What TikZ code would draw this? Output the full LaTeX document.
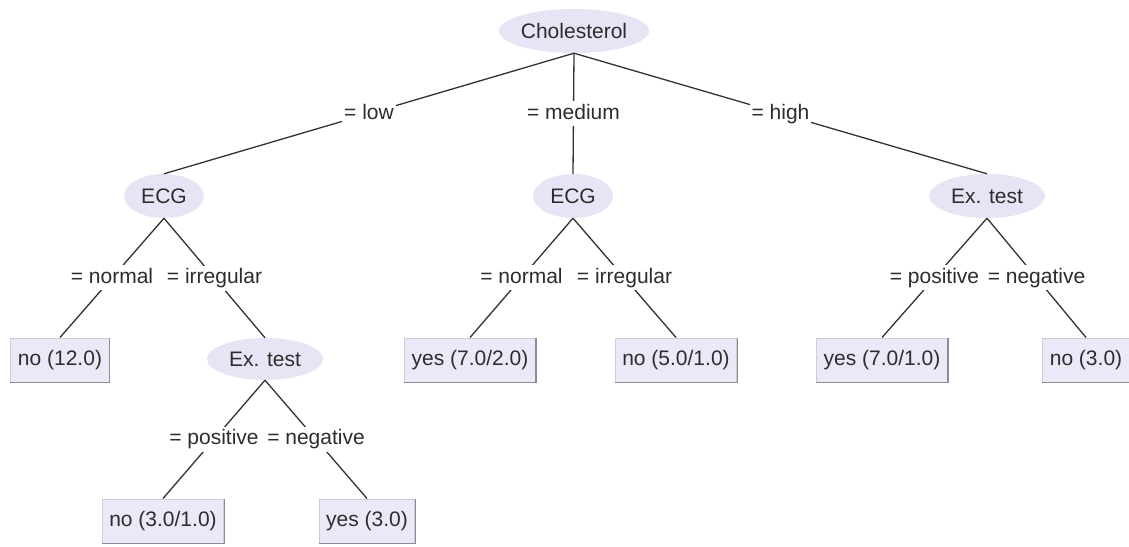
\documentclass[tikz,border=0pt]{standalone}
\usepackage{fontspec}
\setmainfont{Liberation Sans}
\usetikzlibrary{shapes.geometric}
\definecolor{nodefill}{RGB}{230,229,245}
\definecolor{leaffill}{RGB}{233,233,247}
\definecolor{leafedge}{RGB}{205,205,215}
\definecolor{leafshade}{RGB}{140,140,150}
\definecolor{txt}{RGB}{45,45,45}
\definecolor{edgecol}{RGB}{50,50,50}
\tikzset{
  every node/.style={font=\fontsize{21}{25}\selectfont, text=txt},
  attr/.style={ellipse, fill=nodefill, draw=none, inner sep=0pt},
  leaf/.style={rectangle, fill=leaffill, draw=leafedge, line width=1pt, minimum height=44pt, inner xsep=7pt, inner ysep=0pt},
  shade/.style={draw=leafshade, line width=1.4pt},
  conn/.style={draw=edgecol, line width=1.3pt},
  lbl/.style={fill=white, inner xsep=2pt, inner ysep=3pt, text height=15pt, text depth=4pt}
}
\begin{document}
\begin{tikzpicture}[x=1pt,y=-1pt]
\useasboundingbox[fill=white] (0,0) rectangle (1129,546);
% internal nodes
\node[attr, minimum width=132pt, minimum height=44pt] (chol) at (574,31) {Cholesterol};
\node[attr, minimum width=80pt, minimum height=44pt] (ecgL) at (164,196) {ECG};
\node[attr, minimum width=80pt, minimum height=44pt] (ecgM) at (573,196) {ECG};
\node[attr, minimum width=116pt, minimum height=44pt] (exR) at (987,196) {Ex. test};
\node[attr, minimum width=116pt, minimum height=42pt] (exL) at (265,359) {Ex. test};
% leaves
\node[leaf] (l1) at (60,360) {no (12.0)};
\node[leaf] (l2) at (470,360) {yes (7.0/2.0)};
\node[leaf] (l3) at (676,360) {no (5.0/1.0)};
\node[leaf] (l4) at (882,360) {yes (7.0/1.0)};
\node[leaf] (l5) at (1086,360) {no (3.0)};
\node[leaf] (l6) at (163,521) {no (3.0/1.0)};
\node[leaf] (l7) at (367,521) {yes (3.0)};
\foreach \n in {l1,l2,l3,l4,l5,l6,l7}{
  \draw[shade] (\n.north east) -- (\n.south east) -- (\n.south west);
}
% connectors with labels
\draw[conn] (chol.south) -- (ecgL.north) node[midway, lbl] {= low};
\draw[conn] (chol.south) -- (ecgM.north) node[midway, lbl] {= medium};
\draw[conn] (chol.south) -- (exR.north) node[midway, lbl] {= high};
\draw[conn] (ecgL.south) -- (l1.north) node[midway, lbl] {= normal};
\draw[conn] (ecgL.south) -- (exL.north) node[midway, lbl] {= irregular};
\draw[conn] (ecgM.south) -- (l2.north) node[midway, lbl] {= normal};
\draw[conn] (ecgM.south) -- (l3.north) node[midway, lbl] {= irregular};
\draw[conn] (exR.south) -- (l4.north) node[midway, lbl] {= positive};
\draw[conn] (exR.south) -- (l5.north) node[midway, lbl] {= negative};
\draw[conn] (exL.south) -- (l6.north) node[midway, lbl] {= positive};
\draw[conn] (exL.south) -- (l7.north) node[midway, lbl] {= negative};
\end{tikzpicture}
\end{document}
